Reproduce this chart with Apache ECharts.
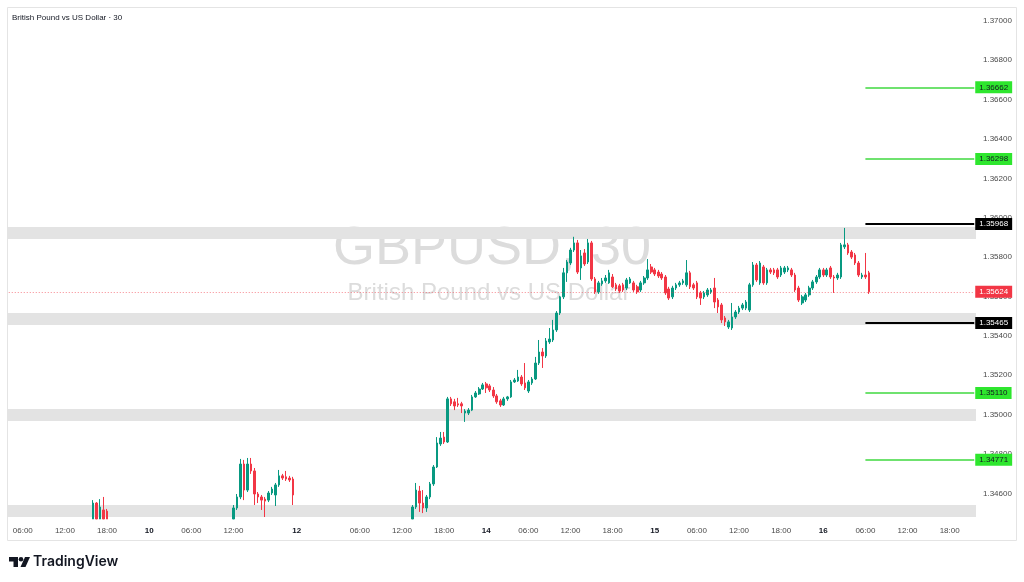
<!DOCTYPE html>
<html><head><meta charset="utf-8">
<script src="https://cdn.jsdelivr.net/npm/echarts@6/dist/echarts.min.js"></script>
<style>html,body{margin:0;padding:0;background:#fff;}#c{width:1024px;height:582px;}</style>
</head><body><div id="c"></div>
<script>
// ---- time slots (30-minute bars); trading resumes Sunday 21:00 after the weekend
const sessions = [["9 04:00", 82], ["12 21:00", 194]];
// ---- time axis tick labels [slot, text]
const tickLabels = [
  ["9 06:00","06:00"],["9 12:00","12:00"],["9 18:00","18:00"],["10 00:00","10"],
  ["10 06:00","06:00"],["10 12:00","12:00"],["12 21:00","12"],
  ["13 06:00","06:00"],["13 12:00","12:00"],["13 18:00","18:00"],["14 00:00","14"],
  ["14 06:00","06:00"],["14 12:00","12:00"],["14 18:00","18:00"],["15 00:00","15"],
  ["15 06:00","06:00"],["15 12:00","12:00"],["15 18:00","18:00"],["16 00:00","16"],
  ["16 06:00","06:00"],["16 12:00","12:00"],["16 18:00","18:00"]
];
const dayLabels = ["10","12","14","15","16"];
const priceTicks = [1.346,1.348,1.350,1.352,1.354,1.356,1.358,1.360,1.362,1.364,1.366,1.368,1.370];
const viewMin = 1.3447, viewMax = 1.3707;

// ---- visible candles (runs of consecutive bars)
const candleStarts = ["9 16:00", "10 12:00", "13 13:30"];
const candleCounts = [5, 18, 131];
const opens = [
1.34420,1.34551,1.34440,1.34516,1.34510,
1.34420,1.34526,1.34582,1.34749,1.34617,1.34749,1.34714,1.34597,1.34582,1.34571,1.34566,1.34602,1.34592,1.34643,1.34689,1.34684,1.34678,1.34673,
1.34430,1.34531,1.34612,1.34551,1.34526,1.34582,1.34648,1.34734,1.34851,1.34886,1.34861,1.35080,1.35065,1.35055,1.35055,1.35008,1.35008,1.35023,1.35090,1.35105,
1.35130,1.35156,1.35146,1.35125,1.35095,1.35070,1.35049,1.35080,1.35090,1.35166,1.35171,1.35191,1.35161,1.35120,1.35161,1.35181,1.35262,1.35318,1.35298,1.35369,
1.35379,1.35430,1.35516,1.35598,1.35720,1.35770,1.35836,1.35872,1.35745,1.35821,1.35775,1.35872,1.35689,1.35623,1.35664,1.35679,1.35669,1.35699,1.35659,1.35654,
1.35659,1.35643,1.35669,1.35669,1.35649,1.35633,1.35669,1.35694,1.35750,1.35735,1.35724,1.35714,1.35699,1.35638,1.35598,1.35643,1.35659,1.35669,1.35659,1.35720,
1.35659,1.35669,1.35618,1.35598,1.35608,1.35623,1.35643,1.35582,1.35557,1.35491,1.35445,1.35440,1.35496,1.35521,1.35541,1.35541,1.35531,1.35659,1.35760,1.35669,
1.35750,1.35669,1.35735,1.35735,1.35735,1.35709,1.35724,1.35735,1.35735,1.35709,1.35643,1.35567,1.35582,1.35608,1.35643,1.35674,1.35699,1.35735,1.35709,1.35745,
1.35699,1.35694,1.35699,1.35852,1.35862,1.35826,1.35811,1.35770,1.35699,1.35709,1.35720
];
const closes = [
1.34551,1.34440,1.34531,1.34460,1.34430,
1.34526,1.34582,1.34749,1.34617,1.34749,1.34714,1.34597,1.34582,1.34566,1.34561,1.34602,1.34622,1.34643,1.34689,1.34678,1.34673,1.34668,1.34592,
1.34531,1.34617,1.34551,1.34526,1.34582,1.34648,1.34734,1.34856,1.34881,1.34861,1.35080,1.35055,1.35044,1.35049,1.35044,1.35018,1.35023,1.35090,1.35110,1.35130,
1.35151,1.35136,1.35125,1.35095,1.35065,1.35049,1.35080,1.35090,1.35166,1.35176,1.35191,1.35156,1.35136,1.35166,1.35181,1.35262,1.35318,1.35298,1.35374,1.35384,
1.35430,1.35516,1.35598,1.35720,1.35775,1.35836,1.35872,1.35724,1.35806,1.35765,1.35872,1.35689,1.35623,1.35669,1.35679,1.35694,1.35720,1.35649,1.35638,1.35628,
1.35633,1.35684,1.35689,1.35633,1.35623,1.35669,1.35694,1.35735,1.35724,1.35714,1.35704,1.35694,1.35618,1.35592,1.35643,1.35659,1.35669,1.35679,1.35720,1.35649,
1.35643,1.35598,1.35592,1.35618,1.35633,1.35633,1.35572,1.35547,1.35481,1.35471,1.35471,1.35496,1.35521,1.35541,1.35557,1.35572,1.35659,1.35760,1.35684,1.35770,
1.35669,1.35735,1.35724,1.35720,1.35699,1.35745,1.35745,1.35745,1.35709,1.35633,1.35582,1.35598,1.35608,1.35643,1.35674,1.35699,1.35735,1.35709,1.35735,1.35699,
1.35694,1.35709,1.35862,1.35862,1.35821,1.35800,1.35770,1.35709,1.35709,1.35699,1.35624
];
const lows = [
1.34380,1.34400,1.34410,1.34430,1.34400,
1.34390,1.34516,1.34571,1.34566,1.34607,1.34699,1.34541,1.34551,1.34516,1.34480,1.34556,1.34592,1.34536,1.34633,1.34668,1.34663,1.34658,1.34541,
1.34400,1.34521,1.34506,1.34500,1.34506,1.34571,1.34638,1.34729,1.34841,1.34851,1.34856,1.35044,1.35023,1.35039,1.35008,1.34963,1.34998,1.35018,1.35085,1.35100,
1.35125,1.35110,1.35115,1.35085,1.35055,1.35039,1.35044,1.35070,1.35085,1.35161,1.35166,1.35146,1.35125,1.35110,1.35151,1.35176,1.35252,1.35237,1.35288,1.35359,
1.35369,1.35420,1.35506,1.35587,1.35674,1.35760,1.35826,1.35714,1.35684,1.35755,1.35765,1.35679,1.35613,1.35613,1.35654,1.35669,1.35664,1.35643,1.35628,1.35618,
1.35623,1.35633,1.35664,1.35623,1.35613,1.35623,1.35659,1.35684,1.35714,1.35704,1.35694,1.35684,1.35608,1.35582,1.35587,1.35633,1.35649,1.35659,1.35649,1.35638,
1.35633,1.35587,1.35557,1.35587,1.35598,1.35613,1.35541,1.35516,1.35465,1.35450,1.35435,1.35430,1.35486,1.35511,1.35531,1.35531,1.35521,1.35649,1.35674,1.35659,
1.35659,1.35659,1.35714,1.35709,1.35689,1.35699,1.35714,1.35724,1.35699,1.35623,1.35572,1.35557,1.35572,1.35598,1.35633,1.35664,1.35689,1.35699,1.35699,1.35689,
1.35618,1.35684,1.35689,1.35841,1.35811,1.35790,1.35760,1.35699,1.35689,1.35689,1.35613
];
const highs = [
1.34566,1.34556,1.34571,1.34582,1.34521,
1.34541,1.34597,1.34775,1.34770,1.34780,1.34780,1.34729,1.34607,1.34592,1.34582,1.34612,1.34633,1.34653,1.34719,1.34699,1.34714,1.34689,1.34684,
1.34541,1.34653,1.34638,1.34617,1.34592,1.34658,1.34744,1.34886,1.34912,1.34912,1.35090,1.35090,1.35080,1.35085,1.35065,1.35028,1.35033,1.35100,1.35120,1.35140,
1.35161,1.35166,1.35156,1.35140,1.35105,1.35080,1.35090,1.35095,1.35176,1.35186,1.35227,1.35201,1.35262,1.35176,1.35191,1.35293,1.35379,1.35338,1.35389,1.35440,
1.35481,1.35526,1.35603,1.35745,1.35785,1.35847,1.35903,1.35887,1.35836,1.35841,1.35892,1.35882,1.35699,1.35679,1.35694,1.35709,1.35735,1.35714,1.35669,1.35664,
1.35669,1.35694,1.35699,1.35679,1.35659,1.35679,1.35704,1.35790,1.35765,1.35745,1.35735,1.35724,1.35709,1.35649,1.35654,1.35669,1.35679,1.35689,1.35785,1.35730,
1.35669,1.35679,1.35628,1.35628,1.35643,1.35643,1.35694,1.35592,1.35567,1.35501,1.35481,1.35567,1.35531,1.35552,1.35567,1.35582,1.35669,1.35775,1.35770,1.35780,
1.35760,1.35745,1.35745,1.35745,1.35745,1.35755,1.35755,1.35755,1.35745,1.35720,1.35654,1.35608,1.35618,1.35654,1.35684,1.35709,1.35745,1.35745,1.35745,1.35755,
1.35709,1.35720,1.35872,1.35948,1.35872,1.35836,1.35821,1.35780,1.35720,1.35821,1.35730
];

// ---- support / resistance zones and levels
const zoneLows  = [1.35892, 1.35455, 1.34968, 1.34480];
const zoneHighs = [1.35953, 1.35516, 1.35028, 1.34541];
const greenLevels = [1.36662, 1.36298, 1.35110, 1.34771];
const blackLevels = [1.35968, 1.35465];
const lastPrice = 1.35624;
const levelStartSlot = "16 06:00";

// ---- build categories
const categories = [];
sessions.forEach(([start, n]) => {
  let [d, hm] = start.split(' ');
  let day = +d; let [h, m] = hm.split(':').map(Number); let t = h * 60 + m;
  for (let k = 0; k < n; k++) {
    categories.push(day + ' ' + String(Math.floor(t / 60)).padStart(2, '0') + ':' + String(t % 60).padStart(2, '0'));
    t += 30; if (t >= 1440) { t -= 1440; day++; }
  }
});
const tickMap = {}; tickLabels.forEach(([c, t]) => tickMap[c] = t);

// candles are cut at the bottom edge of the visible price window (like the chart pane does)
const clampV = v => Math.min(viewMax, Math.max(viewMin, v));
const ohlc = {}; let p = 0;
candleStarts.forEach((s, si) => {
  const idx = categories.indexOf(s);
  for (let k = 0; k < candleCounts[si]; k++) {
    ohlc[idx + k] = [clampV(opens[p]), clampV(closes[p]), clampV(lows[p]), clampV(highs[p])]; p++;
  }
});
const candleData = categories.map((c, i) => ohlc[i] || '-');
const firstSlot = categories[0];
const lastSlot = categories[categories.length - 1];

const UP = '#089981', DOWN = '#f23645';
const FONT = 'Liberation Sans, Arial, sans-serif';

function tag(v, bg, fg) {
  return { show: true, position: 'end', distance: 1, formatter: v.toFixed(5), backgroundColor: bg, color: fg,
           fontSize: 8, fontFamily: FONT, padding: [2, 4, 1, 4], lineHeight: 9 };
}
function levelLine(v, color, width, tagBg, tagColor) {
  return [
    { coord: [levelStartSlot, v], lineStyle: { color: color, width: width, type: 'solid' }, label: tag(v, tagBg, tagColor) },
    { coord: [lastSlot, v] }
  ];
}

const chart = echarts.init(document.getElementById('c'), null, { renderer: 'canvas' });
chart.setOption({
  animation: false,
  backgroundColor: '#ffffff',
  grid: { left: 7, top: 7, width: 969, height: 512, containLabel: false },
  xAxis: {
    type: 'category', data: categories, boundaryGap: true,
    axisLine: { show: false }, axisTick: { show: false }, splitLine: { show: false },
    axisLabel: {
      interval: (i, v) => tickMap[v] !== undefined,
      formatter: v => { const t = tickMap[v]; if (t === undefined) return ''; return dayLabels.includes(t) ? '{b|' + t + '}' : t; },
      color: '#4a4a4a', fontSize: 8, fontFamily: FONT, margin: 8,
      rich: { b: { fontWeight: 'bold', color: '#131722', fontSize: 8, fontFamily: FONT } }
    }
  },
  yAxis: {
    type: 'value', position: 'right', min: viewMin, max: viewMax, interval: 0.0001,
    axisLine: { show: false }, axisTick: { show: false }, splitLine: { show: false },
    axisLabel: {
      formatter: v => priceTicks.some(t => Math.abs(t - v) < 1e-7) ? v.toFixed(5) : '',
      color: '#4a4a4a', fontSize: 8, fontFamily: FONT, margin: 7
    }
  },
  graphic: [
    { type: 'rect', z: 0, shape: { x: 7.5, y: 7.5, width: 1009, height: 533 }, style: { fill: 'none', stroke: '#e4e4e4', lineWidth: 1 } },
    { type: 'text', z: 0, x: 12, y: 18, style: { text: 'British Pound vs US Dollar · 30', font: '8px ' + FONT, fill: '#131722', verticalAlign: 'middle' } },
    { type: 'text', z: 0, x: 492, y: 249, style: { text: 'GBPUSD, 30', font: '54px ' + FONT, fill: '#dcdcdc', align: 'center', verticalAlign: 'middle' } },
    { type: 'text', z: 0, x: 489, y: 293, style: { text: 'British Pound vs US Dollar', font: '24px ' + FONT, fill: '#dcdcdc', align: 'center', verticalAlign: 'middle' } },
    { type: 'polygon', z: 0, shape: { points: [[9, 557], [18, 557], [18, 567], [13.5, 567], [13.5, 561.5], [9, 561.5]] }, style: { fill: '#131722' } },
    { type: 'circle', z: 0, shape: { cx: 21, cy: 559.3, r: 2.3 }, style: { fill: '#131722' } },
    { type: 'polygon', z: 0, shape: { points: [[25, 557], [30, 557], [25.5, 567], [20.5, 567]] }, style: { fill: '#131722' } },
    { type: 'text', z: 0, x: 33, y: 562, style: { text: 'TradingView', font: '600 14px Inter, ' + FONT, fill: '#131722', verticalAlign: 'middle' } }
  ],
  series: [
    {
      type: 'line', data: [], z: 1, silent: true,
      markArea: {
        silent: true, itemStyle: { color: '#e3e3e3' },
        data: zoneLows.map((lo, i) => [{ yAxis: lo }, { yAxis: zoneHighs[i] }])
      }
    },
    {
      type: 'candlestick', data: candleData, z: 3, clip: true, barWidth: '60%',
      itemStyle: { color: UP, color0: DOWN, borderColor: UP, borderColor0: DOWN, borderWidth: 1 }
    },
    {
      type: 'line', data: [], z: 5, clip: false, silent: true,
      markLine: {
        silent: true, symbol: 'none', animation: false,
        data: [
          [
            { coord: [firstSlot, lastPrice], lineStyle: { color: 'rgba(242,54,69,0.6)', width: 1, type: [1, 2] }, label: tag(lastPrice, DOWN, '#ffffff') },
            { coord: [lastSlot, lastPrice] }
          ],
          ...greenLevels.map(v => levelLine(v, '#3fd83f', 1.5, '#2ee62e', '#131722')),
          ...blackLevels.map(v => levelLine(v, '#000000', 2, '#000000', '#ffffff'))
        ]
      }
    }
  ]
});
</script></body></html>
